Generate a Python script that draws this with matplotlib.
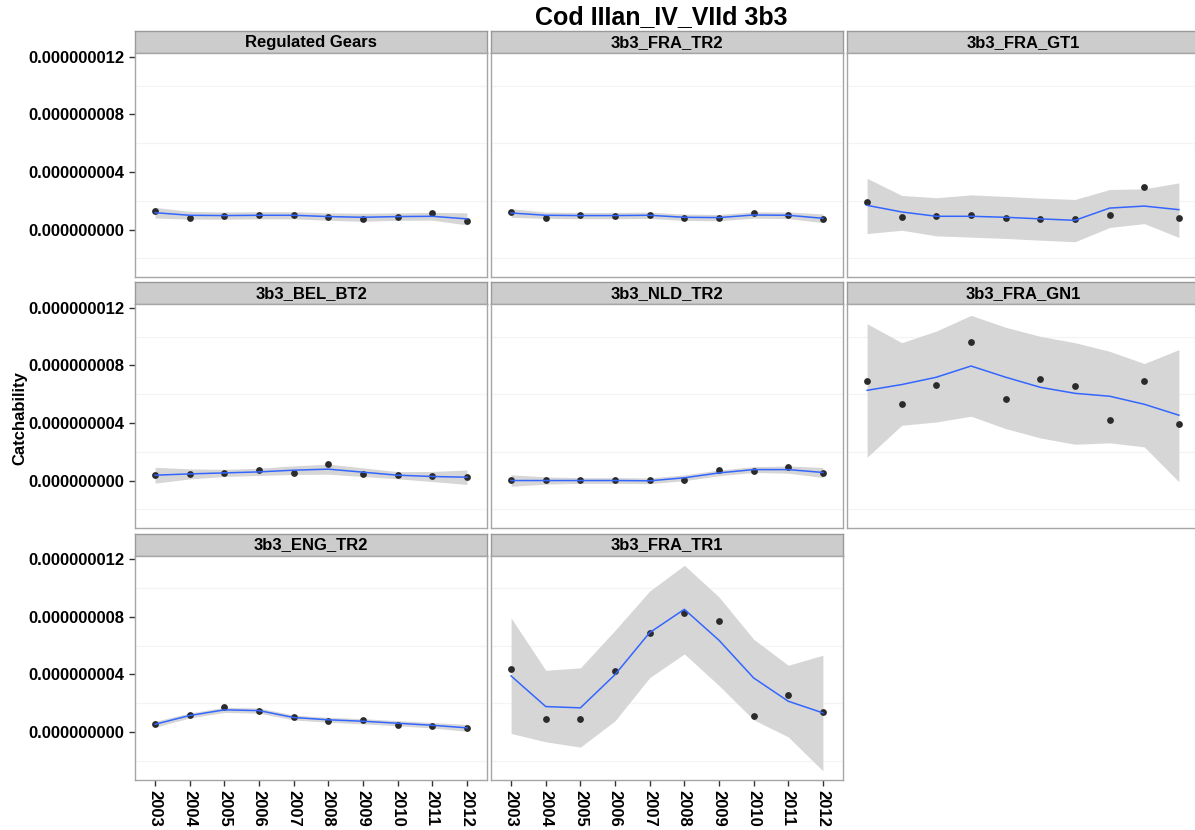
import matplotlib
matplotlib.use("Agg")
import matplotlib.pyplot as plt
from matplotlib.ticker import FixedLocator, FuncFormatter

plt.rcParams['font.family'] = ['Liberation Sans', 'DejaVu Sans']

W, H = 1195, 830
title = "Cod IIIan_IV_VIId 3b3"
ylabel = "Catchability"
years = [2003, 2004, 2005, 2006, 2007, 2008, 2009, 2010, 2011, 2012]
panel_names = ["Regulated Gears", "3b3_FRA_TR2", "3b3_FRA_GT1",
               "3b3_BEL_BT2", "3b3_NLD_TR2", "3b3_FRA_GN1",
               "3b3_ENG_TR2", "3b3_FRA_TR1"]

# values in units of 1e-9
reg_pts = [1.26, 0.78, 0.97, 1.01, 0.99, 0.87, 0.76, 0.90, 1.15, 0.62]
reg_fit = [1.17, 0.99, 0.97, 0.99, 0.99, 0.90, 0.85, 0.90, 0.92, 0.74]
reg_lo = [0.80, 0.72, 0.72, 0.74, 0.74, 0.64, 0.57, 0.64, 0.65, 0.32]
reg_hi = [1.54, 1.26, 1.22, 1.24, 1.24, 1.16, 1.13, 1.16, 1.19, 1.16]

tr2_pts = [1.22, 0.78, 1.01, 0.94, 1.03, 0.83, 0.78, 1.13, 1.03, 0.71]
tr2_fit = [1.15, 0.99, 0.97, 0.97, 0.99, 0.85, 0.83, 1.01, 0.99, 0.78]
tr2_lo = [0.85, 0.77, 0.75, 0.75, 0.77, 0.63, 0.61, 0.79, 0.76, 0.48]
tr2_hi = [1.45, 1.21, 1.19, 1.19, 1.21, 1.07, 1.05, 1.23, 1.22, 1.08]

gt1_pts = [1.88, 0.90, 0.92, 1.01, 0.83, 0.76, 0.74, 1.03, 2.97, 0.80]
gt1_fit = [1.68, 1.22, 0.92, 0.92, 0.85, 0.74, 0.64, 1.49, 1.63, 1.38]
gt1_lo = [-0.28, -0.05, -0.44, -0.53, -0.62, -0.74, -0.85, 0.14, 0.41, -0.55]
gt1_hi = [3.56, 2.37, 2.21, 2.41, 2.30, 2.18, 2.09, 2.78, 2.83, 3.24]

bel_pts = [0.35, 0.46, 0.53, 0.74, 0.49, 1.13, 0.46, 0.35, 0.30, 0.23]
bel_fit = [0.37, 0.46, 0.53, 0.60, 0.72, 0.79, 0.58, 0.37, 0.28, 0.23]
bel_lo = [-0.18, 0.11, 0.28, 0.35, 0.42, 0.44, 0.28, 0.12, -0.07, -0.27]
bel_hi = [0.92, 0.81, 0.78, 0.85, 1.02, 1.14, 0.88, 0.62, 0.63, 0.73]

nld_pts = [0.02, 0.02, 0.02, 0.02, 0.02, 0.02, 0.74, 0.69, 0.95, 0.51]
nld_fit = [0.00, 0.00, 0.00, 0.00, -0.02, 0.19, 0.53, 0.76, 0.76, 0.56]
nld_lo = [-0.40, -0.25, -0.20, -0.20, -0.22, -0.01, 0.33, 0.56, 0.51, 0.21]
nld_hi = [0.40, 0.25, 0.20, 0.20, 0.18, 0.39, 0.73, 0.96, 1.01, 0.91]

gn1_pts = [6.90, 5.32, 6.64, 9.61, 5.69, 7.06, 6.57, 4.19, 6.90, 3.96]
gn1_fit = [6.27, 6.67, 7.18, 7.96, 7.18, 6.48, 6.06, 5.86, 5.30, 4.54]
gn1_lo = [1.62, 3.84, 4.07, 4.47, 3.61, 2.96, 2.52, 2.62, 2.34, -0.09]
gn1_hi = [10.90, 9.58, 10.39, 11.48, 10.65, 10.02, 9.58, 8.98, 8.13, 9.10]

eng_pts = [0.57, 1.15, 1.72, 1.47, 1.01, 0.78, 0.85, 0.52, 0.45, 0.29]
eng_fit = [0.54, 1.15, 1.54, 1.49, 1.01, 0.85, 0.75, 0.61, 0.47, 0.29]
eng_lo = [0.33, 0.98, 1.36, 1.31, 0.84, 0.68, 0.57, 0.43, 0.28, 0.05]
eng_hi = [0.75, 1.32, 1.72, 1.67, 1.18, 1.02, 0.93, 0.79, 0.66, 0.53]

tr1_pts = [4.41, 0.91, 0.91, 4.25, 6.86, 8.30, 7.74, 1.12, 2.60, 1.42]
tr1_fit = [3.90, 1.77, 1.68, 3.99, 6.91, 8.53, 6.38, 3.76, 2.14, 1.33]
tr1_lo = [-0.10, -0.68, -1.05, 0.78, 3.78, 5.43, 3.23, 0.85, -0.34, -2.70]
tr1_hi = [7.93, 4.29, 4.46, 7.07, 9.80, 11.59, 9.39, 6.45, 4.64, 5.34]

series = [
    (reg_pts, reg_fit, reg_lo, reg_hi),
    (tr2_pts, tr2_fit, tr2_lo, tr2_hi),
    (gt1_pts, gt1_fit, gt1_lo, gt1_hi),
    (bel_pts, bel_fit, bel_lo, bel_hi),
    (nld_pts, nld_fit, nld_lo, nld_hi),
    (gn1_pts, gn1_fit, gn1_lo, gn1_hi),
    (eng_pts, eng_fit, eng_lo, eng_hi),
    (tr1_pts, tr1_fit, tr1_lo, tr1_hi),
]
SCALE = 1e-9

fig = plt.figure(figsize=(W / 100, H / 100), dpi=100)


def box(x0, y0, w, h):
    return [x0 / W, 1 - (y0 + h) / H, w / W, h / H]


col_left = [135, 491, 847]
col_w = 352
strip_top = [31, 282, 533.5]
strip_h = 22
panel_h = 224
ylo, yhi = -3.3e-9, 12.27e-9
major = [0, 4e-9, 8e-9, 12e-9]
minor = [-2e-9, 2e-9, 6e-9, 10e-9]
border = '#A6A6A6'

for i, name in enumerate(panel_names):
    r, c = divmod(i, 3)
    x0 = col_left[c]
    st = strip_top[r]
    # strip
    sax = fig.add_axes(box(x0, st, col_w, strip_h))
    sax.set_facecolor('#CCCCCC')
    sax.set_xticks([])
    sax.set_yticks([])
    for sp in sax.spines.values():
        sp.set_color('#999999')
        sp.set_linewidth(1.0)
    sax.text(0.5, 0.48, name, ha='center', va='center', fontsize=12,
             fontweight='bold', transform=sax.transAxes)

    ax = fig.add_axes(box(x0, st + strip_h, col_w, panel_h))
    pts, fit, lo, hi = series[i]
    p = [v * SCALE for v in pts]
    f = [v * SCALE for v in fit]
    l = [v * SCALE for v in lo]
    h = [v * SCALE for v in hi]
    for g in minor:
        ax.axhline(g, color='#F4F4F4', lw=0.9, zorder=0)
    ax.fill_between(years, l, h, color='#D6D6D6', lw=0, zorder=1)
    ax.scatter(years, p, s=24, color='#2B2B2B', zorder=2, linewidths=0)
    ax.plot(years, f, color='#3366FF', lw=1.1, zorder=3)
    ax.set_xlim(2002.42, 2012.58)
    ax.set_ylim(ylo, yhi)
    ax.yaxis.set_major_locator(FixedLocator(major))
    ax.xaxis.set_major_locator(FixedLocator(years))
    for sp in ax.spines.values():
        sp.set_color(border)
        sp.set_linewidth(1.0)
    ax.tick_params(axis='both', length=4, width=1, color='#333333')
    if c == 0:
        ax.yaxis.set_major_formatter(FuncFormatter(lambda v, pos: f"{v:.9f}"))
        for t in ax.get_yticklabels():
            t.set_fontweight('bold')
            t.set_fontsize(12)
    else:
        ax.tick_params(axis='y', left=False, labelleft=False)
    if r == 2:
        ax.set_xticklabels([str(y) for y in years], rotation=-90,
                           fontsize=12, fontweight='bold')
    else:
        ax.tick_params(axis='x', bottom=False, labelbottom=False)

fig.text(661 / W, 1 - 17 / H, title, ha='center', va='center',
         fontsize=18, fontweight='bold')
fig.text(20 / W, 1 - 418 / H, ylabel, ha='center', va='center',
         rotation=90, fontsize=12, fontweight='bold')

fig.savefig('out.png', dpi=100)
